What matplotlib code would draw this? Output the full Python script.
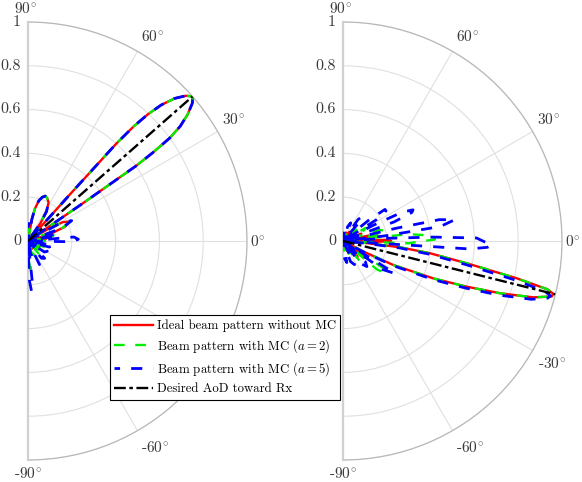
import numpy as np
import matplotlib.pyplot as plt
from matplotlib.transforms import offset_copy

plt.rcParams['font.family'] = ['cmr10', 'DejaVu Serif']
plt.rcParams['mathtext.fontset'] = 'cm'
plt.rcParams['axes.formatter.use_mathtext'] = True

# ---- data (angle in degrees, normalised gain) ----
# left panel: main lobe + first upper sidelobe, shared by the three patterns
left_main_theta = [34.3, 34.5, 34.8, 35.3, 36.0, 37.0, 38.4, 40.0, 41.3, 42.6, 44.2, 45.6, 46.6, 47.3, 47.8, 48.0, 48.2]
left_main_r = [0.0, 0.3, 0.6, 0.7, 0.8, 0.87, 0.93, 0.98, 1.0, 0.98, 0.934, 0.869, 0.795, 0.714, 0.6, 0.3, 0.0]
left_side_theta = [53, 55, 58, 62, 66, 69, 72, 75, 78, 80, 82]
left_side_r = [0, 0.1, 0.16, 0.2, 0.215, 0.22, 0.21, 0.19, 0.15, 0.1, 0]

left_red_lo_theta = [-90, -86, -82, -78, -72, -65, -58, -50, -42, -35, -28, -20, -13, -8, -3, 2, 6, 10, 14, 17, 21, 25, 28.5, 31, 33]
left_red_lo_r = [0, 0.02, 0.03, 0, 0.03, 0.04, 0, 0.04, 0.05, 0, 0.05, 0.06, 0, 0.06, 0.07, 0, 0.08, 0.09, 0, 0.1, 0.18, 0.21, 0.18, 0.1, 0]
left_red_hi_theta = [84, 87, 90]
left_red_hi_r = [0.03, 0.05, 0.04]

left_green_lo_theta = [-90, -87, -85, -83, -80, -74, -68, -62, -56, -50, -44, -38, -32, -26, -20, -14, -9, -4, 1, 5, 9, 13, 17, 21, 25, 28.5, 31, 33]
left_green_lo_r = [0, 0.1, 0.13, 0.1, 0, 0.05, 0.07, 0, 0.06, 0.08, 0, 0.07, 0.09, 0, 0.08, 0.1, 0, 0.09, 0.1, 0, 0.1, 0.12, 0, 0.17, 0.21, 0.18, 0.1, 0]
left_green_hi_theta = [84, 87, 90]
left_green_hi_r = [0.05, 0.07, 0.05]

left_blue_lo_theta = [-90, -88, -86, -84, -82, -78, -70, -64, -58, -52, -46, -40, -34, -28, -22, -16, -10, -4, -1, 2, 5, 8, 11, 14, 17, 21, 25, 29, 33]
left_blue_lo_r = [0, 0.18, 0.23, 0.2, 0, 0.06, 0.1, 0.12, 0, 0.1, 0.11, 0, 0.09, 0.1, 0, 0.1, 0.12, 0, 0.2, 0.23, 0.21, 0, 0.12, 0.14, 0, 0.17, 0.22, 0.17, 0]
left_blue_hi_theta = [84, 87, 90]
left_blue_hi_r = [0.05, 0.08, 0.06]

left_aod = 41.3

# right panel
right_main_theta = [-29.0, -27.5, -25.5, -22.5, -20.3, -18.4, -16.5, -14.9, -14.1, -13.3, -12.1, -10.2, -8.0, -6.3, -5.0, -4.0]
right_main_r = [0, 0.1, 0.255, 0.446, 0.6, 0.756, 0.906, 0.986, 0.99, 0.96, 0.81, 0.574, 0.4, 0.262, 0.1, 0]
right_blue_main_theta = [-29.5, -28.2, -26.2, -23.2, -21.0, -19.1, -17.2, -15.6, -14.8, -14.0, -12.8, -10.9, -8.7, -7.0, -5.7, -4.7]
right_blue_main_r = [0, 0.1, 0.255, 0.446, 0.6, 0.756, 0.9, 0.97, 0.98, 0.95, 0.81, 0.574, 0.4, 0.262, 0.1, 0]

right_red_lo_theta = [-90, -85, -80, -75, -70, -64, -58, -53, -48, -43, -39, -36, -33, -30.5]
right_red_lo_r = [0, 0.03, 0.04, 0, 0.04, 0.06, 0, 0.07, 0.1, 0, 0.11, 0.13, 0.1, 0]
right_red_hi_theta = [-3, -1.5, 0, 1.5, 3, 5, 8, 12, 14, 18, 22, 26, 30, 36, 42, 50, 56, 62, 70, 78, 85, 90]
right_red_hi_r = [0, 0.15, 0.22, 0.2, 0, 0.1, 0.13, 0.12, 0, 0.08, 0.09, 0, 0.06, 0.07, 0, 0.05, 0.05, 0, 0.04, 0, 0.03, 0]

right_green_lo_theta = [-90, -85, -80, -72, -65, -60, -55, -50, -45, -40, -37, -34, -31]
right_green_lo_r = [0, 0.05, 0, 0.06, 0.08, 0, 0.1, 0.12, 0, 0.2, 0.25, 0.22, 0]
right_green_hi_theta = [-3, -2, 1, 4, 6, 7.5, 10, 14, 17, 20, 25, 30, 34, 40, 48, 55, 65, 75, 82, 90]
right_green_hi_r = [0, 0.3, 0.42, 0.38, 0.3, 0, 0.15, 0.2, 0.17, 0, 0.1, 0.12, 0, 0.08, 0.07, 0, 0.06, 0, 0.05, 0]

right_blue_lo_theta = [-90, -85, -80, -76, -70, -64, -58, -52, -47, -43, -40, -36, -32, -29.8]
right_blue_lo_r = [0, 0.08, 0.1, 0, 0.1, 0.12, 0, 0.13, 0.16, 0.14, 0, 0.22, 0.28, 0]
right_blue_hi_theta = [-4.5, -3.6, -2.5, -1.5, -0.5, 1.3, 2.5, 3.5, 4.5, 7, 8.5, 10.8, 12.5, 13.5, 14.5,
                       19, 20.5, 22.5, 24, 26, 27.5, 28.5, 31, 32.5, 35, 37, 39, 40,
                       46, 49, 52, 55, 58, 63, 67, 72, 76, 82, 90]
right_blue_hi_r = [0, 0.58, 0.66, 0.68, 0.65, 0.61, 0.41, 0.2, 0, 0.2, 0.45, 0.52, 0.45, 0.25, 0,
                   0, 0.25, 0.34, 0.35, 0.3, 0.15, 0, 0, 0.18, 0.24, 0.24, 0.15, 0,
                   0, 0.12, 0.14, 0.12, 0, 0, 0.09, 0.07, 0, 0.05, 0]

right_aod = -14.1

labels = ['Ideal beam pattern without MC',
          'Beam pattern with MC ($a=2$)',
          'Beam pattern with MC ($a=5$)',
          'Desired AoD toward Rx']

r_ticks = [0, 0.2, 0.4, 0.6, 0.8, 1]
r_tick_labels = ['0', '0.2', '0.4', '0.6', '0.8', '1']
theta_ticks = [90, 60, 30, 0, -30, -60, -90]
theta_tick_labels = ['$90^{\\!\\circ}$', '$60^{\\!\\circ}$', '$30^{\\!\\circ}$', '$0^{\\!\\circ}$',
                     '-$30^{\\!\\circ}$', '-$60^{\\!\\circ}$', '-$90^{\\!\\circ}$']


def deg(a):
    return np.deg2rad(np.asarray(a, dtype=float))


fig = plt.figure(figsize=(5.82, 4.82), dpi=100)
# polar axes keep a square box; the half disc sits in its middle
ax_l = fig.add_axes([(28 - 109.5) / 582, 22 / 482, 438 / 582, 438 / 482], projection='polar')
ax_r = fig.add_axes([(343 - 109.5) / 582, 22 / 482, 438 / 582, 438 / 482], projection='polar')

tick_col = '#3a3a3a'
# alignment / pixel offsets of the angle labels
th_lab_style = {90: ('center', 'bottom', -2, 6), 60: ('left', 'bottom', 3, 7),
                30: ('left', 'bottom', 4, 5), 0: ('left', 'center', 3, 0),
                -30: ('left', 'top', 5, -6), -60: ('left', 'top', 3, -9),
                -90: ('center', 'top', 0, -6)}


def setup(ax, skip=()):
    ax.set_thetamin(-90)
    ax.set_thetamax(90)
    ax.set_rlim(0, 1)
    ax.set_rgrids([0.2, 0.4, 0.6, 0.8, 1.0], labels=[''] * 5)
    ax.set_thetagrids([-60, -30, 0, 30, 60], labels=[''] * 5)
    ax.grid(True, color='#e0e0e0', lw=0.8)
    ax.spines['polar'].set_color('#b8b8b8')
    ax.spines['polar'].set_linewidth(0.9)
    for s in ('start', 'end'):
        ax.spines[s].set_color('#d0d0d0')
        ax.spines[s].set_linewidth(1.6)
    ax.tick_params(length=0)
    for r, s in zip(r_ticks, r_tick_labels):
        tr = offset_copy(ax.transData, fig=fig, x=-7, y=0, units='dots')
        ax.text(np.pi / 2, r, s, transform=tr, ha='right', va='center',
                fontsize=11.5, color=tick_col, clip_on=False)
    for t, s in zip(theta_ticks, theta_tick_labels):
        if t in skip:
            continue  # hidden under the legend in the original
        ha, va, dx, dy = th_lab_style[t]
        tr = offset_copy(ax.transData, fig=fig, x=dx, y=dy, units='dots')
        ax.text(np.deg2rad(t), 1.0, s, transform=tr, ha=ha, va=va,
                fontsize=11, color=tick_col, clip_on=False)


def draw(ax, red, green, blue, aod):
    h1, = ax.plot(deg(red[0]), red[1], color='#ff0000', lw=1.7, zorder=3)
    h2, = ax.plot(deg(green[0]), green[1], color='#00ee00', lw=1.7,
                  linestyle=(0, (4.5, 4.5)), zorder=4)
    h3, = ax.plot(deg(blue[0]), blue[1], color='#0000ff', lw=2.0,
                  linestyle=(2, (4, 4)), zorder=5)
    h4, = ax.plot(deg([aod, aod]), [0, 1], color='black', lw=1.7,
                  linestyle=(0, (5, 1.5, 1.5, 1.5)), zorder=6)
    return [h1, h2, h3, h4]


setup(ax_l, skip=(-30,))
setup(ax_r)

l_red = (left_red_lo_theta + left_main_theta + left_side_theta + left_red_hi_theta,
         left_red_lo_r + left_main_r + left_side_r + left_red_hi_r)
l_green = (left_green_lo_theta + left_main_theta + left_side_theta + left_green_hi_theta,
           left_green_lo_r + left_main_r + left_side_r + left_green_hi_r)
l_blue = (left_blue_lo_theta + left_main_theta + left_side_theta + left_blue_hi_theta,
          left_blue_lo_r + left_main_r + left_side_r + left_blue_hi_r)
handles = draw(ax_l, l_red, l_green, l_blue, left_aod)

r_red = (right_red_lo_theta + right_main_theta + right_red_hi_theta,
         right_red_lo_r + right_main_r + right_red_hi_r)
r_green = (right_green_lo_theta + right_main_theta + right_green_hi_theta,
           right_green_lo_r + right_main_r + right_green_hi_r)
r_blue = (right_blue_lo_theta + right_blue_main_theta + right_blue_hi_theta,
          right_blue_lo_r + right_blue_main_r + right_blue_hi_r)
draw(ax_r, r_red, r_green, r_blue, right_aod)

leg = fig.legend(handles, labels, loc='upper left',
                 bbox_to_anchor=(110 / 582, 1 - 315 / 482), borderaxespad=0,
                 fontsize=9.2, frameon=True, fancybox=False, framealpha=1,
                 edgecolor='black', handlelength=3.0, handletextpad=0.3,
                 borderpad=0.35, labelspacing=0.4)
leg.get_frame().set_linewidth(0.8)

fig.savefig('out.png', dpi=100)
